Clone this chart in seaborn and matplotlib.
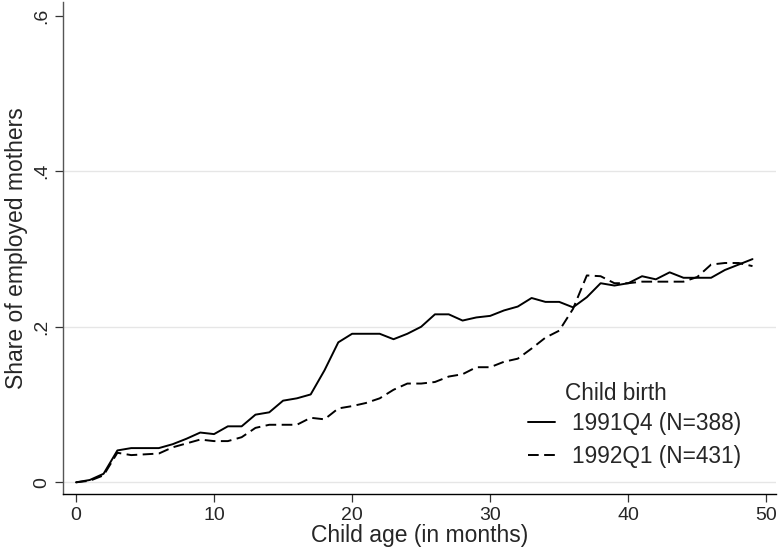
import pandas as pd
import numpy as np
import seaborn as sns
import matplotlib.pyplot as plt
from matplotlib.lines import Line2D

# share of employed mothers by child age, two birth cohorts
months = list(range(50))
emp_91q4 = [0.000, 0.003, 0.011, 0.041, 0.044, 0.044, 0.044, 0.049, 0.056, 0.064,
            0.062, 0.072, 0.072, 0.087, 0.090, 0.105, 0.108, 0.113, 0.144, 0.180,
            0.191, 0.191, 0.191, 0.184, 0.191, 0.200, 0.216, 0.216, 0.208, 0.212,
            0.214, 0.221, 0.226, 0.237, 0.232, 0.232, 0.225, 0.238, 0.256, 0.253,
            0.256, 0.265, 0.261, 0.270, 0.263, 0.263, 0.263, 0.273, 0.280, 0.287]
emp_92q1 = [0.000, 0.002, 0.009, 0.038, 0.035, 0.036, 0.037, 0.045, 0.050, 0.055,
            0.053, 0.053, 0.058, 0.070, 0.074, 0.074, 0.074, 0.083, 0.081, 0.095,
            0.098, 0.102, 0.108, 0.119, 0.127, 0.127, 0.129, 0.136, 0.139, 0.148,
            0.148, 0.155, 0.159, 0.172, 0.186, 0.195, 0.223, 0.266, 0.265, 0.256,
            0.256, 0.258, 0.258, 0.258, 0.258, 0.264, 0.280, 0.282, 0.282, 0.278]
cohorts = ["1991Q4 (N=388)", "1992Q1 (N=431)"]
x_ticks = [0, 10, 20, 30, 40, 50]
y_ticks = [0, 0.2, 0.4, 0.6]
y_ticklabels = ["0", ".2", ".4", ".6"]

df = pd.DataFrame({
    "month": months * 2,
    "share": emp_91q4 + emp_92q1,
    "cohort": [cohorts[0]] * len(months) + [cohorts[1]] * len(months),
})

sns.set_style("white")
plt.rcParams["font.family"] = ["Liberation Sans", "DejaVu Sans"]

DASH = (5.5, 2.8)

fig = plt.figure(figsize=(7.78, 5.51), dpi=100)
ax = fig.add_axes([0.0806, 0.1029, 0.9168, 0.8935])

sns.lineplot(data=df, x="month", y="share", style="cohort", hue="cohort",
             palette=["black", "black"],
             dashes={cohorts[0]: "", cohorts[1]: DASH},
             linewidth=1.4, ax=ax, legend=False)

ax.set_xlim(-0.96, 50.7)
ax.set_ylim(-0.0154, 0.6176)

ax.set_xticks(x_ticks)
ax.set_yticks(y_ticks)
ax.set_yticklabels(y_ticklabels, rotation=90, va="center")
ax.tick_params(axis="both", direction="out", length=5.8, width=0.9,
               color="#333333", labelsize=14, pad=3, left=True, bottom=True)

for yv in y_ticks[:-1]:
    ax.axhline(yv, color="#e6e6e6", linewidth=1.0, zorder=0)

for side in ["top", "right"]:
    ax.spines[side].set_visible(False)
ax.spines["left"].set_color("#555555")
ax.spines["bottom"].set_color("black")
ax.spines["left"].set_linewidth(1.0)
ax.spines["bottom"].set_linewidth(1.0)

ax.set_xlabel("Child age (in months)", fontsize=16.5, labelpad=0)
ax.set_ylabel("Share of employed mothers", fontsize=16.5, labelpad=4)

# legend (no frame), title placed by hand
handles = [Line2D([], [], color="black", linewidth=1.4),
           Line2D([], [], color="black", linewidth=1.4, dashes=DASH)]
ax.legend(handles, cohorts, loc="upper left", frameon=False,
          bbox_to_anchor=(528 / 778, 1 - 412 / 551), bbox_transform=fig.transFigure,
          fontsize=16.3, borderpad=0, borderaxespad=0, handlelength=1.2,
          handletextpad=0.75, labelspacing=0.43)
fig.text(565 / 778, 1 - 393 / 551, "Child birth", fontsize=16.3, va="center", ha="left")

fig.savefig("out.png", dpi=100)
